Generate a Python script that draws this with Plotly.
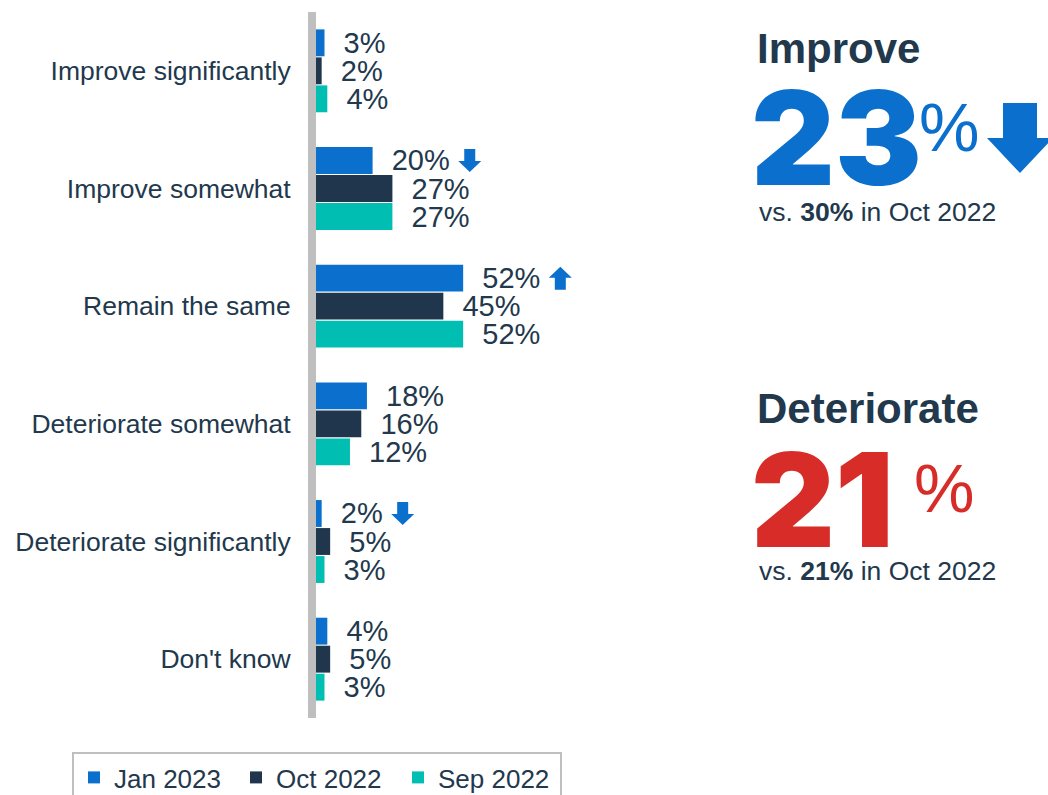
import plotly.graph_objects as go

W, H = 1048, 795

categories = ["Improve significantly", "Improve somewhat", "Remain the same",
              "Deteriorate somewhat", "Deteriorate significantly", "Don't know"]
series_names = ["Jan 2023", "Oct 2022", "Sep 2022"]
jan_2023 = [3, 20, 52, 18, 2, 4]
oct_2022 = [2, 27, 45, 16, 5, 5]
sep_2022 = [4, 27, 52, 12, 3, 3]
# change markers on the latest wave (category -> direction)
jan_changes = {"Improve somewhat": "down", "Remain the same": "up",
               "Deteriorate significantly": "down"}

improve_now, improve_prev = 23, 30
deteriorate_now, deteriorate_prev = 21, 21

BLUE = "#0A6FCD"
NAVY = "#1F364C"
TEAL = "#00BFB2"
RED = "#D72C28"
TEXT = "#22384D"
GRAY = "#BFBFBF"
FONT = "Liberation Sans, Arial, sans-serif"
CAT_SIZE = 26.5
VAL_SIZE = 29

colors = [BLUE, NAVY, TEAL]
values = [jan_2023, oct_2022, sep_2022]

# plot-area placement in pixels
x0_px, x1_px = 316, 700
y_top_px, y_bot_px = 12, 718
px_per_unit = 2.83
x_max = (x1_px - x0_px) / px_per_unit


def px(x):
    return x / W


def py(y):
    return 1 - y / H


fig = go.Figure()
for name, vals, col in zip(series_names, values, colors):
    fig.add_trace(go.Bar(
        y=categories, x=vals, name=name, orientation="h",
        marker=dict(color=col, line=dict(width=0)),
        text=[f"  {v}%" for v in vals], textposition="outside",
        constraintext="none",
        textfont=dict(family=FONT, size=VAL_SIZE, color=TEXT),
        cliponaxis=False, hoverinfo="skip",
    ))

# approximate Arial advance widths (em) for label width estimation
CHAR_W = {"%": 0.889, " ": 0.278}


def text_width(s, size):
    return sum(CHAR_W.get(c, 0.556) for c in s) * size


group_frac = 1 - 0.286
slot = group_frac / 3
shapes = []
for cat, direction in jan_changes.items():
    i = categories.index(cat)
    v = jan_2023[i]
    cx = 3 + text_width(f"  {v}%", VAL_SIZE) + 20
    hw, sw, hh, half = 11.5, 5.5, 11, 11.5
    if direction == "down":
        pts = [(cx - sw, half), (cx + sw, half), (cx + sw, -half + hh),
               (cx + hw, -half + hh), (cx, -half), (cx - hw, -half + hh),
               (cx - sw, -half + hh)]
    else:
        pts = [(cx - sw, -half), (cx + sw, -half), (cx + sw, half - hh),
               (cx + hw, half - hh), (cx, half), (cx - hw, half - hh),
               (cx - sw, half - hh)]
    path = "M" + " L".join(f"{a:.2f},{b:.2f}" for a, b in pts) + " Z"
    shapes.append(dict(
        type="path", xref="x", yref="y", xsizemode="pixel", ysizemode="pixel",
        xanchor=v, yanchor=i - slot, path=path,
        fillcolor=BLUE, line=dict(width=0), layer="above",
    ))

# large arrow next to the Improve headline
ax_pts = [(1003, 103), (1037, 103), (1037, 138), (1053, 138), (1020, 173),
          (987, 138), (1003, 138)]
big_path = "M" + " L".join(f"{px(x):.5f},{py(y):.5f}" for x, y in ax_pts) + " Z"
shapes.append(dict(type="path", xref="paper", yref="paper", path=big_path,
                   fillcolor=BLUE, line=dict(width=0)))

annotations = []


def headline(title, value, prev, color, y_title, y_value, x_pct, y_note):
    annotations.append(dict(
        x=px(755), y=py(y_title), xref="paper", yref="paper", xanchor="left",
        yanchor="middle", showarrow=False, text=f"<b>{title}</b>",
        font=dict(family=FONT, size=42, color=TEXT)))
    annotations.append(dict(
        x=px(749), y=py(y_value), xref="paper", yref="paper", xanchor="left",
        yanchor="middle", showarrow=False, text=f"{value}",
        font=dict(family="Inter, " + FONT, size=130, color=color, weight=900)))
    annotations.append(dict(
        x=px(x_pct), y=py(y_value - 11), xref="paper", yref="paper",
        xanchor="left", yanchor="middle", showarrow=False, text="%",
        font=dict(family=FONT, size=68, color=color)))
    annotations.append(dict(
        x=px(757), y=py(y_note), xref="paper", yref="paper", xanchor="left",
        yanchor="middle", showarrow=False,
        text=f"vs. <b>{prev}%</b> in Oct 2022",
        font=dict(family=FONT, size=26.5, color=TEXT)))


headline("Improve", improve_now, improve_prev, BLUE, 49, 138, 917, 212)
headline("Deteriorate", deteriorate_now, deteriorate_prev, RED, 408, 499, 912, 571)

fig.update_layout(
    width=W, height=H,
    margin=dict(l=0, r=0, t=0, b=0, autoexpand=False),
    paper_bgcolor="white", plot_bgcolor="white",
    barmode="group", bargap=0.286, bargroupgap=0.04,
    font=dict(family=FONT, color=TEXT, size=CAT_SIZE),
    xaxis=dict(domain=[px(x0_px), px(x1_px)], range=[0, x_max],
               visible=False, fixedrange=True),
    yaxis=dict(domain=[py(y_bot_px), py(y_top_px)], autorange="reversed",
               showline=True, linecolor=GRAY, linewidth=8, ticks="",
               showgrid=False, zeroline=False, ticklabelstandoff=12,
               tickfont=dict(family=FONT, size=CAT_SIZE, color=TEXT)),
    legend=dict(orientation="h", x=px(72), y=py(752), xanchor="left",
                yanchor="top", bordercolor=GRAY, borderwidth=2,
                entrywidth=117, entrywidthmode="pixels",
                font=dict(family=FONT, size=26, color=TEXT),
                itemclick=False, traceorder="normal"),
    shapes=shapes, annotations=annotations,
    showlegend=True,
)

fig.write_html("out.html")
